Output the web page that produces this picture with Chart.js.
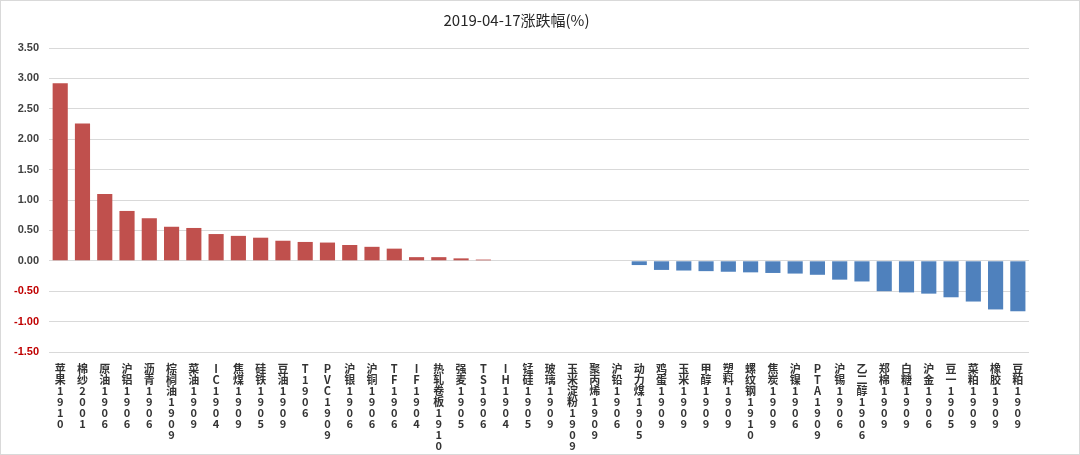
<!DOCTYPE html>
<html>
<head>
<meta charset="utf-8">
<script src="https://cdn.jsdelivr.net/npm/chart.js"></script>
<style>
    html, body { margin: 0; padding: 0; background: #fff; }
    #wrap { width: 1078px; height: 453px; border: 1px solid #d9d9d9; }
</style>
</head>
<body>
<div id="wrap"><canvas id="chart"></canvas></div>
<script>
const categories = [
    '苹果1910', '棉纱2001', '原油1906', '沪铝1906', '沥青1906', '棕榈油1909', '菜油1909', 'IC1904',
    '焦煤1909', '硅铁1905', '豆油1909', 'T1906', 'PVC1909', '沪银1906', '沪铜1906', 'TF1906',
    'IF1904', '热轧卷板1910', '强麦1905', 'TS1906', 'IH1904', '锰硅1905', '玻璃1909', '玉米淀粉1909',
    '聚丙烯1909', '沪铅1906', '动力煤1905', '鸡蛋1909', '玉米1909', '甲醇1909', '塑料1909', '螺纹钢1910',
    '焦炭1909', '沪镍1906', 'PTA1909', '沪锡1906', '乙二醇1906', '郑棉1909', '白糖1909', '沪金1906',
    '豆一1905', '菜粕1909', '橡胶1909', '豆粕1909'
];
const changes = [
    2.92, 2.26, 1.10, 0.82, 0.70, 0.56, 0.54, 0.44,
    0.41, 0.38, 0.33, 0.31, 0.30, 0.26, 0.23, 0.20,
    0.06, 0.06, 0.04, 0.02, 0, 0, 0, 0,
    0, 0, -0.07, -0.15, -0.16, -0.17, -0.18, -0.19,
    -0.20, -0.21, -0.23, -0.31, -0.34, -0.50, -0.52, -0.54,
    -0.60, -0.67, -0.80, -0.83
];
const yTicks = [-1.5, -1.0, -0.5, 0, 0.5, 1.0, 1.5, 2.0, 2.5, 3.0, 3.5];

const upColor = '#C0504D';
const downColor = '#4F81BD';

new Chart(document.getElementById('chart'), {
    type: 'bar',
    data: {
        labels: categories,
        datasets: [{
            data: changes,
            backgroundColor: changes.map(v => v >= 0 ? upColor : downColor),
            borderWidth: 0,
            categoryPercentage: 0.68,
            barPercentage: 1
        }]
    },
    options: {
        responsive: true,
        maintainAspectRatio: false,
        animation: false,
        layout: { padding: { top: 0, right: 50, bottom: 0, left: 3 } },
        plugins: {
            legend: { display: false },
            tooltip: { enabled: false },
            title: {
                display: true,
                text: '2019-04-17涨跌幅(%)',
                color: '#262626',
                font: { family: '"Noto Sans CJK SC", "Liberation Sans Narrow", sans-serif', size: 15, weight: 'normal' },
                padding: { top: 10, bottom: 19 }
            }
        },
        scales: {
            x: {
                grid: { display: false },
                border: { display: false },
                ticks: {
                    autoSkip: false,
                    maxRotation: 0,
                    minRotation: 0,
                    padding: 3,
                    color: '#333333',
                    font: { family: '"Noto Sans CJK SC", sans-serif', size: 11, weight: 'bold', lineHeight: 1.0 },
                    callback: function (value) {
                        return Array.from(this.getLabelForValue(value));
                    }
                }
            },
            y: {
                min: -1.5,
                max: 3.5,
                afterBuildTicks: axis => { axis.ticks = yTicks.map(v => ({ value: v })); },
                grid: { color: '#d9d9d9', drawTicks: false },
                border: { display: false },
                ticks: {
                    padding: 10,
                    color: yTicks.map(v => v < 0 ? '#C00000' : '#404040'),
                    font: { family: '"Liberation Sans Narrow", "Liberation Sans", sans-serif', size: 11, weight: 'bold' },
                    callback: v => v.toFixed(2)
                }
            }
        }
    }
});
</script>
</body>
</html>
